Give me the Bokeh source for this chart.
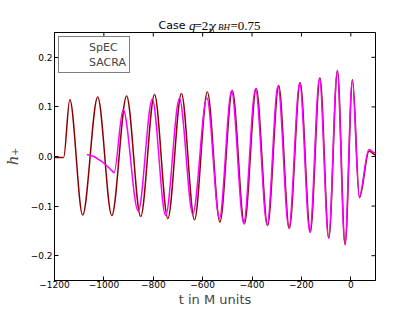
import numpy as np
from bokeh.plotting import figure
from bokeh.layouts import column
from bokeh.models import (Range1d, FixedTicker, Label, Legend,
                          LegendItem, ColumnDataSource)
from bokeh.embed import file_html
from bokeh.resources import INLINE

# ---- data (extrema of the waveforms) ----
spec_t = [-1200, -1163, -1138, -1086, -1025, -968, -908, -851, -795, -741,
          -686, -633, -581, -530, -480, -431, -383, -337, -292, -249,
          -205, -164, -125, -89, -54, -23, 7, 35, 74, 100]
spec_h = [-0.002, -0.002, 0.115, -0.118, 0.120, -0.119, 0.122, -0.121, 0.125, -0.125,
          0.127, -0.128, 0.130, -0.132, 0.133, -0.136, 0.137, -0.139, 0.143, -0.145,
          0.149, -0.153, 0.159, -0.165, 0.174, -0.178, 0.155, -0.083, 0.011, 0.003]

sacra_drift_t = [-1069, -1040, -1006, -979, -959]
sacra_drift_h = [0.004, 0.000, -0.011, -0.023, -0.033]

sacra_t = [-959, -922, -861, -804, -750, -694, -640, -583, -532, -483,
           -434, -386, -339, -295, -251, -207, -166, -127, -90, -55,
           -24, 6, 34, 73, 100]
sacra_h = [-0.033, 0.095, -0.110, 0.116, -0.119, 0.117, -0.116, 0.118, -0.125, 0.132,
           -0.134, 0.136, -0.138, 0.142, -0.144, 0.148, -0.152, 0.158, -0.164, 0.172,
           -0.177, 0.154, -0.081, 0.014, 0.007]

x_ticks = [-1200, -1000, -800, -600, -400, -200, 0]
x_tick_labels = ["\u22121200", "\u22121000", "\u2212800", "\u2212600", "\u2212400", "\u2212200", "0"]
y_ticks = [-0.2, -0.1, 0.0, 0.1, 0.2]
y_tick_labels = ["\u22120.2", "\u22120.1", "0.0", "0.1", "0.2"]

X_MIN, X_MAX = -1200, 100
Y_MIN, Y_MAX = -0.25, 0.25

SPEC_COLOR = "#8B0000"
SACRA_COLOR = "#FF00FF"

FRAME_LEFT, FRAME_TOP = 52, 32           # canvas pixels of the plot frame
FRAME_W, FRAME_H = 321, 248
BORDER_RIGHT, BORDER_BOTTOM = 40, 30
PX_X = FRAME_W / (X_MAX - X_MIN)
PX_Y = FRAME_H / (Y_MAX - Y_MIN)


def bezier_source(t, h):
    t = np.asarray(t, float)
    h = np.asarray(h, float)
    dt = np.diff(t)
    return ColumnDataSource(dict(
        x0=t[:-1], y0=h[:-1], x1=t[1:], y1=h[1:],
        cx0=t[:-1] + dt / 3, cy0=h[:-1], cx1=t[1:] - dt / 3, cy1=h[1:]))


# ---------------- title strip (separate figure so nothing clips it) ----------------
tf = figure(frame_width=FRAME_W, frame_height=FRAME_TOP,
            x_range=Range1d(X_MIN, X_MAX), y_range=Range1d(FRAME_TOP, 0),
            x_axis_location=None, y_axis_location=None,
            output_backend="svg", toolbar_location=None,
            min_border_left=FRAME_LEFT, min_border_right=BORDER_RIGHT,
            min_border_top=0, min_border_bottom=0)
tf.xgrid.visible = False
tf.ygrid.visible = False
tf.outline_line_color = None
tf.background_fill_color = "white"
tf.border_fill_color = "white"


def title_piece(px, py, text, font, size, style="normal"):
    tf.add_layout(Label(x=X_MIN + (px - FRAME_LEFT) / PX_X, y=py, text=text,
                        text_font=font, text_font_size=size, text_font_style=style,
                        text_baseline="alphabetic", text_align="left", text_color="black"))


title_piece(156, 25.0, "Case", "DejaVu Sans", "11px")
title_piece(186.5, 25.0, "q", "Liberation Serif", "13px", "italic")
title_piece(192.0, 25.0, "=2;", "Liberation Serif", "13px")
title_piece(207.5, 25.0, "\u03c7", "Liberation Serif", "13px", "italic")
title_piece(215.5, 26.8, "BH", "Liberation Serif", "9px", "italic")
title_piece(228.0, 25.0, "=0.75", "Liberation Serif", "13px")

# ---------------- main plot ----------------
p = figure(frame_width=FRAME_W, frame_height=FRAME_H,
           x_range=Range1d(X_MIN, X_MAX), y_range=Range1d(Y_MIN, Y_MAX),
           output_backend="svg", toolbar_location=None,
           min_border_left=FRAME_LEFT, min_border_right=BORDER_RIGHT,
           min_border_top=0, min_border_bottom=BORDER_BOTTOM)
p.xgrid.visible = False
p.ygrid.visible = False
p.outline_line_color = "black"
p.outline_line_width = 1
p.background_fill_color = "white"
p.border_fill_color = "white"

# curves
p.bezier(x0="x0", y0="y0", x1="x1", y1="y1", cx0="cx0", cy0="cy0", cx1="cx1", cy1="cy1",
         source=bezier_source(spec_t, spec_h), line_color=SPEC_COLOR, line_width=1.5)
p.line(sacra_drift_t, sacra_drift_h, line_color=SACRA_COLOR, line_width=1.5)
p.bezier(x0="x0", y0="y0", x1="x1", y1="y1", cx0="cx0", cy0="cy0", cx1="cx1", cy1="cy1",
         source=bezier_source(sacra_t, sacra_h), line_color=SACRA_COLOR, line_width=1.5)

# inward ticks on the top and right edges (matplotlib box style)
tick_len_x = 4 / PX_Y
tick_len_y = 4 / PX_X
p.segment(x0=x_ticks, y0=[Y_MAX] * len(x_ticks), x1=x_ticks,
          y1=[Y_MAX - tick_len_x] * len(x_ticks), line_color="black", line_width=1)
p.segment(x0=[X_MAX] * len(y_ticks), y0=y_ticks, x1=[X_MAX - tick_len_y] * len(y_ticks),
          y1=y_ticks, line_color="black", line_width=1)

# legend proxies
r_spec = p.line(x=[], y=[], line_color=SPEC_COLOR, line_width=1.5)
r_sacra = p.line(x=[], y=[], line_color=SACRA_COLOR, line_width=1.5)
legend = Legend(items=[LegendItem(label="SpEC", renderers=[r_spec]),
                       LegendItem(label="SACRA", renderers=[r_sacra])],
                location="top_left", margin=4, padding=3, spacing=1,
                label_text_font="DejaVu Sans", label_text_font_size="11px",
                glyph_width=17, glyph_height=14, label_height=14, label_standoff=10,
                border_line_color="black", border_line_width=1,
                background_fill_color="white", background_fill_alpha=1)
p.add_layout(legend)

# axes
xa = p.xaxis[0]
xa.ticker = FixedTicker(ticks=x_ticks)
xa.major_label_overrides = dict(zip(x_ticks, x_tick_labels))
ya = p.yaxis[0]
ya.ticker = FixedTicker(ticks=y_ticks)
ya.major_label_overrides = dict(zip(y_ticks, y_tick_labels))
for ax in (xa, ya):
    ax.major_tick_in = 4
    ax.major_tick_out = 0
    ax.minor_tick_line_color = None
    ax.major_label_text_font = "DejaVu Sans"
    ax.major_label_text_font_size = "9px"
    ax.major_label_text_color = "black"
    ax.axis_line_color = "black"
xa.major_label_standoff = 0
ya.major_label_standoff = 2
xa.axis_label = "t in M units"
xa.axis_label_text_font = "DejaVu Sans"
xa.axis_label_text_font_size = "13px"
xa.axis_label_text_font_style = "normal"
xa.axis_label_standoff = 1
ya.axis_label = "h\u208A"
ya.axis_label_text_font = "DejaVu Serif"
ya.axis_label_text_font_size = "15px"
ya.axis_label_text_font_style = "italic"
ya.axis_label_standoff = 6

layout = column(tf, p, spacing=0)
open("out.html", "w").write(file_html(layout, INLINE))
